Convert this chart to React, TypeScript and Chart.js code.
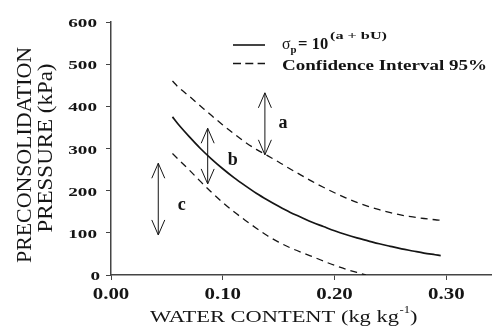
import React, { useEffect, useRef } from 'react';
import { Chart, registerables } from 'chart.js';

Chart.register(...registerables);

// ---- data ----
const waterContent = [0.055, 0.06, 0.07, 0.08, 0.09, 0.10, 0.11, 0.12, 0.13, 0.14, 0.15, 0.16, 0.17, 0.18, 0.19, 0.20, 0.21, 0.22, 0.23, 0.24, 0.25, 0.26, 0.27, 0.28, 0.29, 0.295];
const fittedPressure = [375, 358, 328, 300, 275, 252, 231, 212, 194, 178, 163, 149, 137, 125, 115, 105, 96, 88, 81, 74, 68, 62, 57, 52, 48, 46];
const upperPressure = [460, 446, 424, 401, 378, 356, 335, 315, 298, 283, 268, 252, 237, 222, 208, 195, 183, 172, 163, 155, 148, 142, 138, 134, 131, 130];
const lowerWater = [0.055, 0.06, 0.07, 0.08, 0.09, 0.10, 0.11, 0.12, 0.13, 0.14, 0.15, 0.16, 0.17, 0.18, 0.19, 0.20, 0.21, 0.22, 0.228];
const lowerPressure = [288, 275, 249, 222, 196, 172, 150, 130, 111, 93, 78, 65, 54, 44, 33, 23, 14, 6, 0];

const xTickValues = [0, 0.1, 0.2, 0.3];
const xTickLabels = ['0.00', '0.10', '0.20', '0.30'];
const yTickValues = [0, 100, 200, 300, 400, 500, 600];
const yTickLabels = ['0', '100', '200', '300', '400', '500', '600'];

const arrowWater = [0.1377, 0.0865, 0.0423];
const arrowTop = [432, 348, 265];
const arrowBottom = [285, 216, 95];
const letterLabels = ['a', 'b', 'c'];
const letterWater = [0.154, 0.109, 0.0632];
const letterPressure = [360, 273, 166];

const xTitle = 'WATER CONTENT (kg kg';
const xTitleSup = '-1';
const yTitleLines = ['PRECONSOLIDATION', 'PRESSURE (kPa)'];
const legendFit = ['σ', 'p', '=', '10', '(a + bU)'];
const legendCI = 'Confidence Interval 95%';

const SERIF = "'Liberation Serif', 'Times New Roman', serif";
const INK = '#151515';
const AXIS = '#444';

function drawText(
  ctx: CanvasRenderingContext2D,
  text: string,
  x: number,
  y: number,
  font: string,
  opts: { align?: 'left' | 'center' | 'right'; width?: number; sx?: number } = {}
) {
  ctx.save();
  ctx.font = font;
  const w = ctx.measureText(text).width;
  const sx = opts.width ? opts.width / w : opts.sx ?? 1;
  const tw = w * sx;
  let left = x;
  if (opts.align === 'center') left = x - tw / 2;
  else if (opts.align === 'right') left = x - tw;
  ctx.translate(left, y);
  ctx.scale(sx, 1);
  ctx.textAlign = 'left';
  ctx.textBaseline = 'alphabetic';
  ctx.fillStyle = INK;
  ctx.fillText(text, 0, 0);
  ctx.restore();
  return tw;
}

const decorPlugin = {
  id: 'decor',
  afterDraw(chart: any) {
    const ctx: CanvasRenderingContext2D = chart.ctx;
    const xs = chart.scales.x;
    const ys = chart.scales.y;

    // y tick labels
    yTickValues.forEach((v, i) => {
      const py = ys.getPixelForValue(v);
      drawText(ctx, yTickLabels[i], v === 0 ? 100 : 97, py + 5, `bold 13.5px ${SERIF}`, { align: 'right', sx: 1.42 });
    });
    // x tick labels
    xTickValues.forEach((v, i) => {
      const px = xs.getPixelForValue(v);
      drawText(ctx, xTickLabels[i], px, 299, `bold 17px ${SERIF}`, { align: 'center', sx: 1.23 });
    });

    // x title with superscript
    const sxT = 1.27;
    let cx = 150;
    cx += drawText(ctx, xTitle, cx, 321.7, `17.7px ${SERIF}`, { sx: sxT });
    cx += drawText(ctx, xTitleSup, cx + 0.5, 313, `10px ${SERIF}`, { sx: sxT }) + 0.5;
    drawText(ctx, ')', cx, 321.7, `17.7px ${SERIF}`, { sx: sxT });

    // y title (rotated)
    const yLines = [
      { bx: 31, cy: 155, w: 216 },
      { bx: 52, cy: 148, w: 169 },
    ];
    yTitleLines.forEach((t, i) => {
      ctx.save();
      ctx.translate(yLines[i].bx, yLines[i].cy);
      ctx.rotate(-Math.PI / 2);
      drawText(ctx, t, 0, 0, `20.7px ${SERIF}`, { align: 'center', width: yLines[i].w });
      ctx.restore();
    });

    // legend
    ctx.save();
    ctx.strokeStyle = INK;
    ctx.lineWidth = 1.6;
    ctx.beginPath();
    ctx.moveTo(233, 45);
    ctx.lineTo(265, 45);
    ctx.stroke();
    ctx.lineWidth = 1.4;
    ctx.setLineDash([8, 4.3]);
    ctx.beginPath();
    ctx.moveTo(233, 63.5);
    ctx.lineTo(265, 63.5);
    ctx.stroke();
    ctx.restore();
    drawText(ctx, legendFit[0], 282, 49.3, `17px ${SERIF}`, { width: 8.5 });
    drawText(ctx, legendFit[1], 290.5, 52.5, `bold 10px ${SERIF}`, { width: 6 });
    drawText(ctx, legendFit[2], 298, 49.3, `bold 16px ${SERIF}`, { width: 9.5 });
    drawText(ctx, legendFit[3], 311.7, 49.3, `bold 16.5px ${SERIF}`, { width: 16.5 });
    drawText(ctx, legendFit[4], 330, 38.5, `bold 9.5px ${SERIF}`, { width: 57 });
    drawText(ctx, legendCI, 282, 70, `bold 15.5px ${SERIF}`, { width: 205 });

    // double-headed arrows
    ctx.save();
    ctx.strokeStyle = INK;
    ctx.lineWidth = 1;
    arrowWater.forEach((u, i) => {
      const px = xs.getPixelForValue(u);
      const t = ys.getPixelForValue(arrowTop[i]);
      const b = ys.getPixelForValue(arrowBottom[i]);
      ctx.beginPath();
      ctx.moveTo(px, t);
      ctx.lineTo(px, b);
      ctx.moveTo(px - 6.5, t + 15);
      ctx.lineTo(px, t);
      ctx.lineTo(px + 6.5, t + 15);
      ctx.moveTo(px - 6.5, b - 15);
      ctx.lineTo(px, b);
      ctx.lineTo(px + 6.5, b - 15);
      ctx.stroke();
    });
    ctx.restore();

    // letters
    letterLabels.forEach((l, i) => {
      const px = xs.getPixelForValue(letterWater[i]);
      const py = ys.getPixelForValue(letterPressure[i]);
      drawText(ctx, l, px, py + 5, `bold 18px ${SERIF}`, { align: 'center' });
    });
  },
};

export default function App() {
  const canvasRef = useRef<HTMLCanvasElement | null>(null);

  useEffect(() => {
    if (!canvasRef.current) return;
    const fitted = waterContent.map((u, i) => ({ x: u, y: fittedPressure[i] }));
    const upper = waterContent.map((u, i) => ({ x: u, y: upperPressure[i] }));
    const lower = lowerWater.map((u, i) => ({ x: u, y: lowerPressure[i] }));

    const chart = new Chart(canvasRef.current, {
      type: 'line',
      data: {
        datasets: [
          { data: fitted, borderColor: INK, borderWidth: 1.7, pointRadius: 0, cubicInterpolationMode: 'monotone', fill: false },
          { data: upper, borderColor: INK, borderWidth: 1.3, borderDash: [7, 5], pointRadius: 0, cubicInterpolationMode: 'monotone', fill: false },
          { data: lower, borderColor: INK, borderWidth: 1.3, borderDash: [7, 5], pointRadius: 0, cubicInterpolationMode: 'monotone', fill: false },
        ],
      },
      options: {
        animation: false,
        responsive: true,
        maintainAspectRatio: false,
        layout: { padding: { top: 22, right: 1, left: 0, bottom: 0 } },
        plugins: { legend: { display: false }, tooltip: { enabled: false }, title: { display: false } },
        scales: {
          x: {
            type: 'linear',
            min: 0,
            max: 0.34,
            border: { display: true, color: AXIS, width: 1.5 },
            grid: { display: true, drawOnChartArea: false, drawTicks: true, tickLength: 5, color: AXIS, lineWidth: 1 },
            ticks: { display: false },
            afterBuildTicks: (s: any) => {
              s.ticks = xTickValues.map((v) => ({ value: v }));
            },
            afterFit: (s: any) => {
              s.height = 56;
            },
          },
          y: {
            type: 'linear',
            min: 0,
            max: 600,
            border: { display: true, color: AXIS, width: 1.5 },
            grid: { display: true, drawOnChartArea: false, drawTicks: true, tickLength: 5, color: AXIS, lineWidth: 1 },
            ticks: { display: false },
            afterBuildTicks: (s: any) => {
              s.ticks = yTickValues.map((v) => ({ value: v }));
            },
            afterFit: (s: any) => {
              s.width = 111;
            },
          },
        },
      } as any,
      plugins: [decorPlugin],
    });
    return () => chart.destroy();
  }, []);

  return (
    <div style={{ position: 'absolute', left: 0, top: 0, width: 492, height: 331, background: '#fff' }}>
      <canvas ref={canvasRef} />
    </div>
  );
}
